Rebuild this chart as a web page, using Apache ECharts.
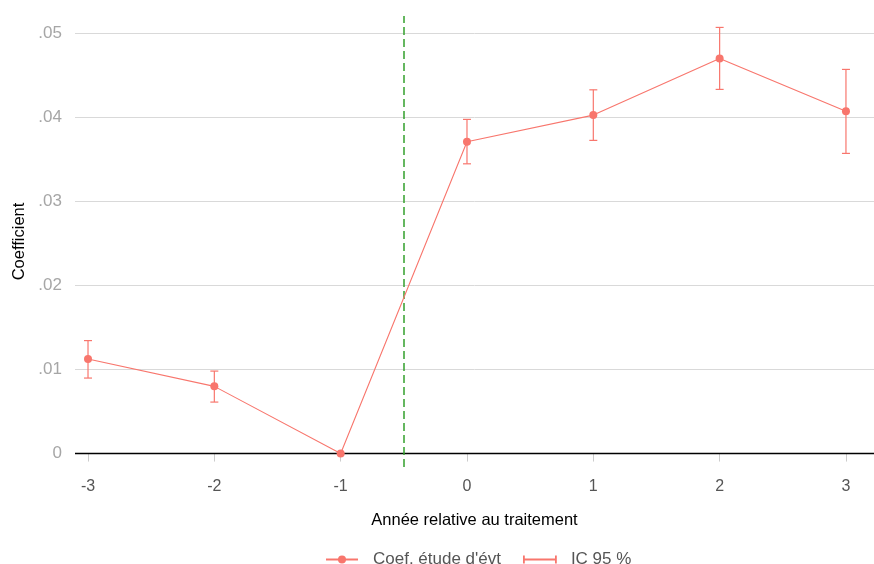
<!DOCTYPE html>
<html><head><meta charset="utf-8">
<script src="https://cdn.jsdelivr.net/npm/echarts@6/dist/echarts.min.js"></script>
<style>html,body{margin:0;padding:0;background:#fff;overflow:hidden}#c{width:874px;height:564px}</style>
</head><body><div id="c"></div>
<script>
const years = [-3, -2, -1, 0, 1, 2, 3];
const coef = [0.01125, 0.0080, 0, 0.03712, 0.0403, 0.04705, 0.04077];
const ciLow = [0.00899, 0.00613, 0, 0.0345, 0.03729, 0.04336, 0.03574];
const ciHigh = [0.01345, 0.00982, 0, 0.03979, 0.04331, 0.05074, 0.04574];
const yTicks = [0, 0.01, 0.02, 0.03, 0.04, 0.05];
const xTicks = [-3, -2, -1, 0, 1, 2, 3];
const treatLine = -0.5;

const red = '#F8766D';
const chart = echarts.init(document.getElementById('c'));
const fmtY = v => v === 0 ? '0' : String(Math.round(v * 100) / 100).replace(/^0/, '');
chart.setOption({
  animation: false,
  textStyle: { fontFamily: 'Liberation Sans, Arial, sans-serif' },
  grid: { left: 75, right: 0, top: 16, bottom: 97, outerBoundsMode: 'none', containLabel: false },
  xAxis: {
    type: 'value', min: -3.103, max: 3.222,
    name: 'Année relative au traitement', nameLocation: 'middle', nameGap: 45,
    nameTextStyle: { color: '#000', fontSize: 16.5 },
    axisLine: { show: false },
    axisTick: { show: true, customValues: xTicks, length: 8, lineStyle: { color: '#ccc' } },
    axisLabel: { customValues: xTicks, color: '#555', fontSize: 16, margin: 12, formatter: v => String(v) },
    splitLine: { show: false }
  },
  yAxis: {
    type: 'value', min: -0.0016, max: 0.0521,
    name: 'Coefficient', nameLocation: 'middle', nameGap: 47,
    nameTextStyle: { color: '#000', fontSize: 16.5 },
    axisLine: { show: false },
    axisTick: { show: true, customValues: yTicks, length: 8, lineStyle: { color: '#ccc' } },
    axisLabel: { customValues: yTicks, color: '#a6a6a6', fontSize: 17, margin: 13, formatter: fmtY },
    splitLine: { show: false }
  },
  legend: {
    top: 551, left: 325, padding: 0, itemGap: 22, itemWidth: 32, itemHeight: 10,
    textStyle: { color: '#555', fontSize: 17, padding: [0, 0, 0, 10] },
    data: [
      { name: "Coef. étude d'évt" },
      { name: 'IC 95 %', icon: 'path://M0,1 L0,9 M0,5 L32,5 M32,1 L32,9', itemStyle: { color: red, borderColor: red, borderWidth: 1.8 } }
    ]
  },
  series: [
    {
      name: 'grid', type: 'line', data: [], silent: true,
      markLine: {
        symbol: 'none', silent: true, label: { show: false },
        lineStyle: { color: '#d9d9d9', width: 1, type: 'solid' },
        data: yTicks.filter(v => v !== 0).map(v => ({ yAxis: v }))
      }
    },
    {
      name: 'zero', type: 'line', data: [], silent: true, z: 3,
      markLine: {
        symbol: 'none', silent: true, label: { show: false },
        lineStyle: { color: '#000', width: 1.3, type: 'solid' },
        data: [{ yAxis: 0 }]
      }
    },
    {
      name: 'treat', type: 'line', data: [], silent: true, z: 4,
      markLine: {
        symbol: 'none', silent: true, label: { show: false },
        lineStyle: { color: '#33a02c', width: 1.5, type: [8, 4] },
        data: [{ xAxis: treatLine }]
      }
    },
    {
      name: 'IC 95 %', type: 'custom', z: 5,
      data: years.map((x, i) => [x, ciLow[i], ciHigh[i]]),
      itemStyle: { color: red, borderColor: red, borderWidth: 1.5 },
      renderItem: function (params, api) {
        const x = api.value(0), lo = api.value(1), hi = api.value(2);
        if (lo === hi) return null;
        const p1 = api.coord([x, lo]), p2 = api.coord([x, hi]);
        const w = 4;
        const st = { stroke: red, lineWidth: 1.2, fill: null };
        return { type: 'group', children: [
          { type: 'line', shape: { x1: p1[0], y1: p1[1], x2: p2[0], y2: p2[1] }, style: st },
          { type: 'line', shape: { x1: p1[0] - w, y1: p1[1], x2: p1[0] + w, y2: p1[1] }, style: st },
          { type: 'line', shape: { x1: p2[0] - w, y1: p2[1], x2: p2[0] + w, y2: p2[1] }, style: st }
        ]};
      }
    },
    {
      name: "Coef. étude d'évt", type: 'line', z: 6,
      data: years.map((x, i) => [x, coef[i]]),
      symbol: 'circle', symbolSize: 8,
      lineStyle: { color: red, width: 1.1 },
      itemStyle: { color: red }
    }
  ]
});
</script></body></html>
